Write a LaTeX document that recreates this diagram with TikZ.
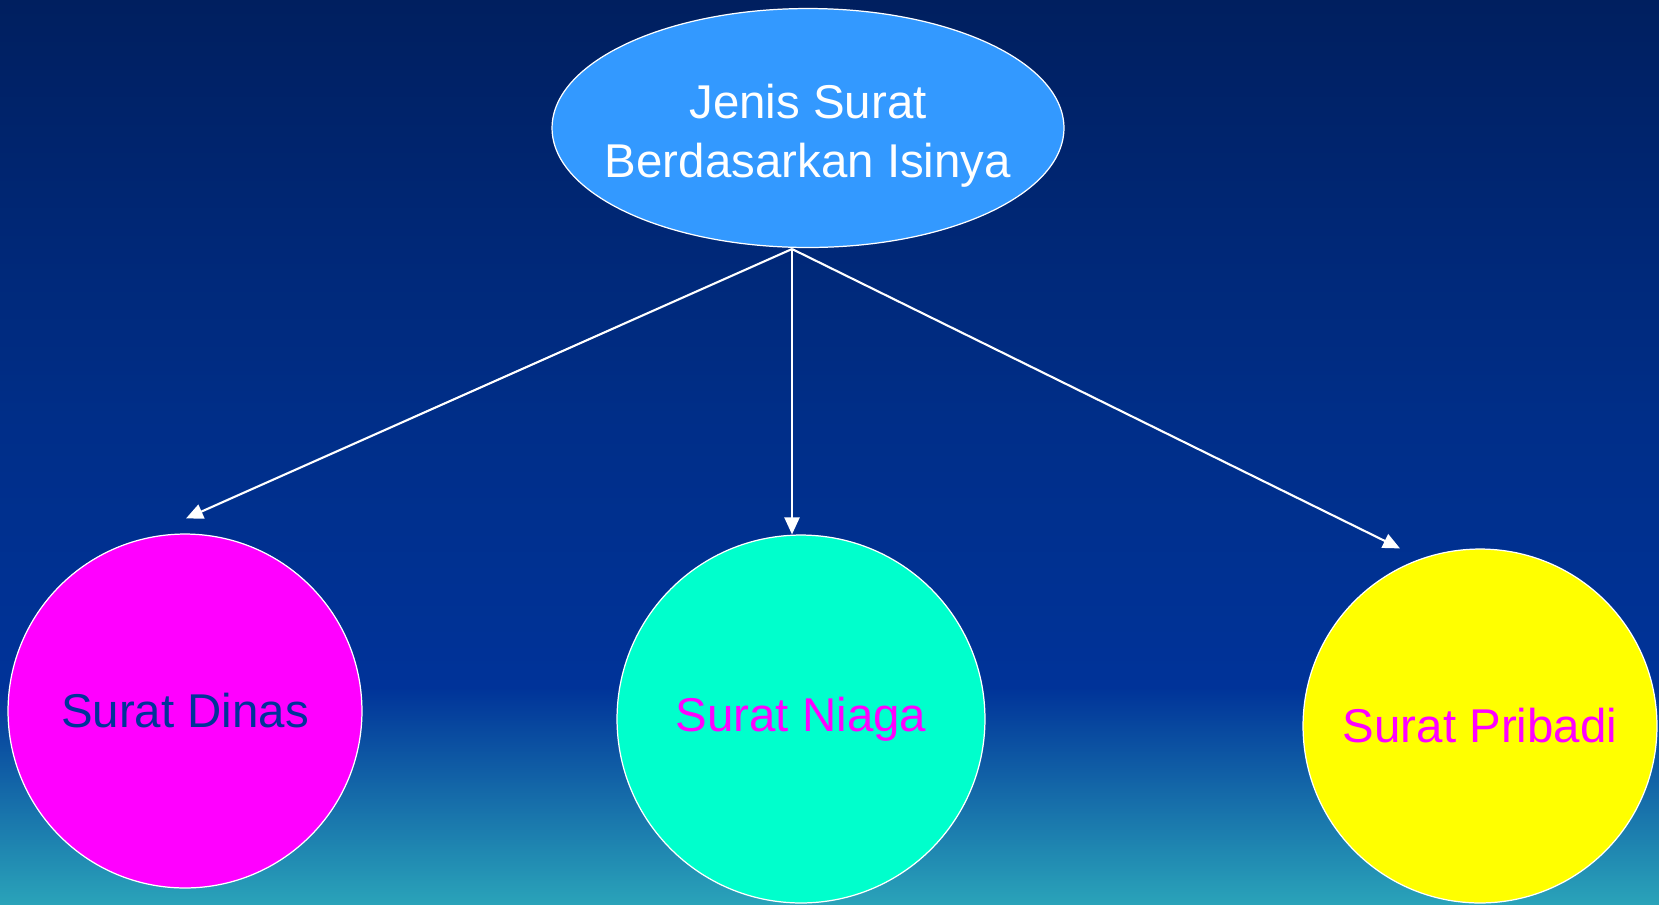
\documentclass[tikz,border=0pt]{standalone}
\usepackage{fontspec}
\setmainfont{Liberation Sans}
\usetikzlibrary{shapes.geometric,arrows.meta}
\definecolor{bgtop}{HTML}{001F5F}
\definecolor{bghigh}{HTML}{002E88}
\definecolor{bgmid}{HTML}{003399}
\definecolor{bgbot}{HTML}{2AA3B9}
\definecolor{skyblue}{HTML}{3399FF}
\definecolor{dinasfill}{HTML}{FF00FF}
\definecolor{niagafill}{HTML}{00FFCC}
\definecolor{pribadifill}{HTML}{FFFF00}
\definecolor{dinastext}{HTML}{003399}
\pgfdeclareverticalshading{bgshade}{100bp}{color(0bp)=(bgbot); color(25bp)=(bgbot);
  color(37bp)=(bgmid); color(52bp)=(bghigh); color(75bp)=(bgtop); color(100bp)=(bgtop)}
\begin{document}
\begin{tikzpicture}[x=0.02cm, y=-0.02cm, >={Triangle[length=0.34cm,width=0.3cm]},
    txt/.style={font=\fontsize{27}{33.5}\selectfont, align=center},
    bubble/.style={circle, draw=white, line width=0.7pt, inner sep=0pt, txt},
    arr/.style={->, white, line width=1.2pt}]
  \useasboundingbox (0,0) rectangle (1659,904);
  \shade[shading=bgshade] (0,0) rectangle (1659,904);
  \node[ellipse, draw=white, line width=0.7pt, fill=skyblue, minimum width=10.24cm,
        minimum height=4.78cm, inner sep=0pt] (top) at (808,128) {};
  \node[txt, white] (toptext) at ([yshift=-0.15cm]top.center) {Jenis Surat\\Berdasarkan Isinya};
  \node[bubble, fill=dinasfill, text=dinastext, minimum size=7.08cm] (dinas) at (185,711) {Surat Dinas};
  \node[bubble, fill=niagafill, text=dinasfill, minimum size=7.36cm] (niaga) at (801,719) {Surat Niaga};
  \node[bubble, fill=pribadifill, text=dinasfill, minimum size=7.08cm] (pribadi) at (1480,726) {Surat Pribadi};
  \coordinate (fork) at (792,249);
  \draw[arr] (fork) -- ([shift={(1,-15)}]dinas.north);
  \draw[arr] (fork) -- ([shift={(-9,0)}]niaga.north);
  \draw[arr] (fork) -- ([shift={(-80,0)}]pribadi.north);
\end{tikzpicture}
\end{document}
